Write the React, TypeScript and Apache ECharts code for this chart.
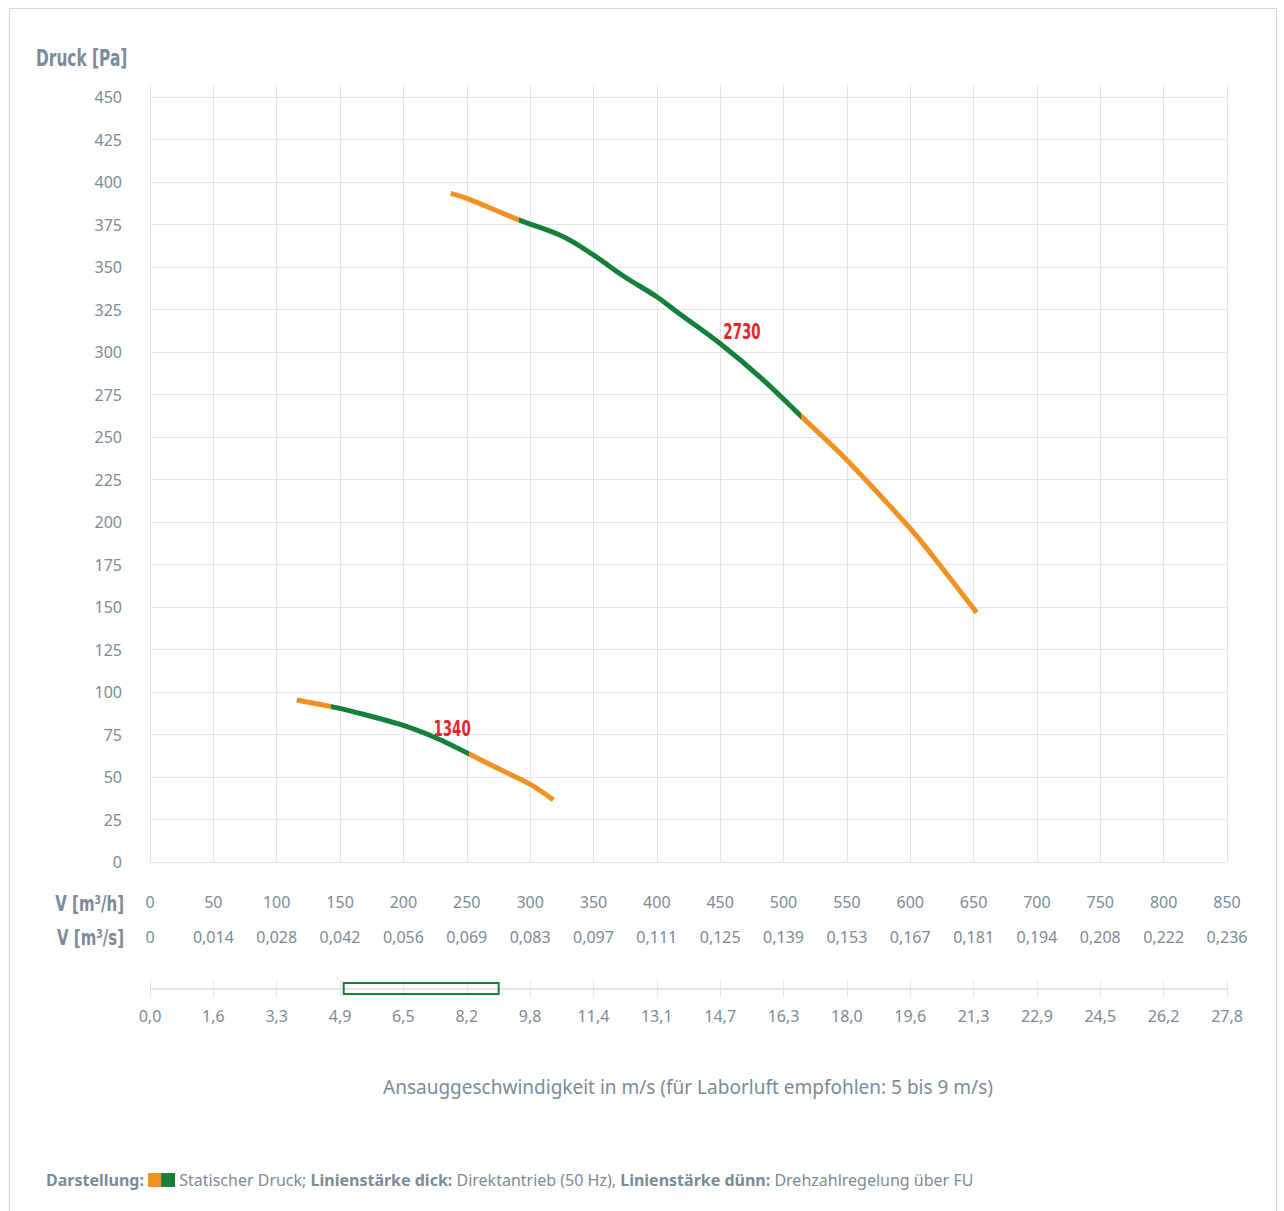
import React, { useEffect, useRef } from "react";
import * as echarts from "echarts";

// ---- Data ----
const flowMin = 0;
const flowMax = 850;
const flowStep = 50;
const pressureMax = 450;
const pressureStep = 25;

const flowM3sLabels = ["0", "0,014", "0,028", "0,042", "0,056", "0,069", "0,083", "0,097", "0,111", "0,125", "0,139", "0,153", "0,167", "0,181", "0,194", "0,208", "0,222", "0,236"];
const velocityLabels = ["0,0", "1,6", "3,3", "4,9", "6,5", "8,2", "9,8", "11,4", "13,1", "14,7", "16,3", "18,0", "19,6", "21,3", "22,9", "24,5", "26,2", "27,8"];
const velocityAtFlowMax = 27.8; // m/s at 850 m³/h
const recommendedVelocity = [5, 9]; // m/s

// Curve 1340 rpm: [m³/h, Pa]
const curve1340: number[][] = [
  [115.8, 95.3], [142.9, 91.4], [160, 88.5], [198.7, 80.6], [226.3, 72.8], [252, 63.5], [276, 54.5], [299.9, 45.8], [318.3, 36.5],
];
const curve1340Direct = [142.9, 252]; // green segment range (m³/h)
const label1340 = { text: "1340", flow: 238.4, pressure: 78.2 };

// Curve 2730 rpm
const curve2730: number[][] = [
  [237.3, 393.3], [250, 390.4], [291.5, 377.6], [326.2, 367.8], [349.9, 357.1], [373.6, 344.7], [399.9, 332.5],
  [415.7, 323.7], [449.9, 305], [484.1, 283.5], [513.6, 262.4], [549.9, 236.5], [599.8, 196.3], [618.2, 179.6], [652.4, 146.7],
];
const curve2730Direct = [291.5, 513.6];
const label2730 = { text: "2730", flow: 467.2, pressure: 311.8 };

// ---- Styles ----
const ORANGE = "#f39022";
const GREEN = "#15803a";
const TEXT = "#7b8b99";
const GRID = "#e3e4ea";
const NUM_FONT = "'Noto Sans', 'Open Sans', sans-serif";
const COND_FONT = "'DejaVu Sans', sans-serif";

function idxLabel(arr: string[]) {
  return (v: number) => {
    const i = Math.round((v - flowMin) / flowStep);
    return arr[i] ?? "";
  };
}

export default function App() {
  const ref = useRef<HTMLDivElement>(null);
  useEffect(() => {
    if (!ref.current) return;
    const chart = echarts.init(ref.current, null, { renderer: "svg" });
    const toFlow = (ms: number) => (ms / velocityAtFlowMax) * flowMax;

    const pieces = (r: number[]) => [
      { lt: r[0], color: ORANGE },
      { gte: r[0], lte: r[1], color: GREEN },
      { gt: r[1], color: ORANGE },
    ];

    const valueX = (gridIndex: number, extra: any = {}) => ({
      type: "value",
      gridIndex,
      min: flowMin,
      max: flowMax,
      interval: flowStep,
      axisLine: { show: false },
      axisTick: { show: false },
      axisLabel: { show: false },
      splitLine: { show: false },
      ...extra,
    });

    const condText = (text: string, x: number, y: number, align: string, size: number, fill: string, sx: number) => ({
      type: "text",
      x,
      y,
      scaleX: sx,
      style: { text, font: `bold ${size}px ${COND_FONT}`, fill, align, verticalAlign: "middle" },
    });

    const baseGraphic: any[] = [
      {
        type: "rect",
        silent: true,
        shape: { x: 9.5, y: 8.5, width: 1267, height: 1230 },
        style: { fill: "none", stroke: "#d4d7dc", lineWidth: 1 },
        z: -1,
      },
      condText("Druck [Pa]", 36, 58, "left", 23, TEXT, 0.67),
      condText("V [m³/h]", 124, 903, "right", 22, TEXT, 0.68),
      condText("V [m³/s]", 124, 937, "right", 22, TEXT, 0.68),
      {
        type: "text",
        x: 688,
        y: 1087,
        style: {
          text: "Ansauggeschwindigkeit in m/s (für Laborluft empfohlen: 5 bis 9 m/s)",
          font: `19px ${NUM_FONT}`,
          fill: TEXT,
          align: "center",
          verticalAlign: "middle",
        },
      },
      {
        type: "text",
        x: 46,
        y: 1180,
        style: {
          text:
            "{b|Darstellung:} {o|}{g|} {n|Statischer Druck;} {b|Linienstärke dick:} {n|Direktantrieb (50 Hz),} {b|Linienstärke dünn:} {n|Drehzahlregelung über FU}",
          verticalAlign: "middle",
          fill: TEXT,
          font: `16px ${NUM_FONT}`,
          rich: {
            b: { fontFamily: NUM_FONT, fontWeight: "bold", fontSize: 16, fill: TEXT },
            n: { fontFamily: NUM_FONT, fontSize: 16, fill: TEXT },
            o: { backgroundColor: ORANGE, width: 13, height: 14 },
            g: { backgroundColor: GREEN, width: 14, height: 14 },
          },
        },
      },
    ];

    chart.setOption({
      animation: false,
      backgroundColor: "#ffffff",
      grid: [
        { left: 150, right: 57, top: 97, height: 765 },
        { left: 150, right: 57, top: 85, height: 12 },
        { left: 150, right: 57, top: 980, height: 17 },
      ],
      xAxis: [
        valueX(0, {
          splitLine: { show: true, lineStyle: { color: GRID, width: 1 } },
          axisLabel: { show: true, margin: 32, fontSize: 16, color: TEXT, fontFamily: NUM_FONT, formatter: (v: number) => String(v) },
        }),
        valueX(0, {
          position: "bottom",
          offset: 35,
          axisLabel: { show: true, margin: 32, fontSize: 16, color: TEXT, fontFamily: NUM_FONT, formatter: idxLabel(flowM3sLabels) },
        }),
        valueX(1, { splitLine: { show: true, lineStyle: { color: GRID, width: 1 } } }),
        valueX(2, {
          splitLine: { show: true, lineStyle: { color: GRID, width: 1 } },
          axisLabel: { show: true, margin: 11, fontSize: 16, color: TEXT, fontFamily: NUM_FONT, formatter: idxLabel(velocityLabels) },
        }),
      ],
      yAxis: [
        {
          type: "value",
          gridIndex: 0,
          min: 0,
          max: pressureMax,
          interval: pressureStep,
          axisLine: { show: false },
          axisTick: { show: false },
          axisLabel: { margin: 28, fontSize: 16, color: TEXT, fontFamily: NUM_FONT },
          splitLine: { show: true, lineStyle: { color: GRID, width: 1 } },
        },
        { type: "value", gridIndex: 1, min: 0, max: 1, show: false },
        {
          type: "value",
          gridIndex: 2,
          min: 0,
          max: 2,
          interval: 1,
          axisLine: { show: false },
          axisTick: { show: false },
          axisLabel: { show: false },
          splitLine: { show: true, lineStyle: { color: ["transparent", GRID, "transparent"], width: 2 } },
        },
      ],
      visualMap: [
        { type: "piecewise", show: false, dimension: 0, seriesIndex: 0, pieces: pieces(curve2730Direct) },
        { type: "piecewise", show: false, dimension: 0, seriesIndex: 1, pieces: pieces(curve1340Direct) },
      ],
      series: [
        {
          type: "line",
          xAxisIndex: 0,
          yAxisIndex: 0,
          data: curve2730,
          smooth: 0.35,
          showSymbol: false,
          lineStyle: { width: 5 },
          z: 5,
        },
        {
          type: "line",
          xAxisIndex: 0,
          yAxisIndex: 0,
          data: curve1340,
          smooth: 0.35,
          showSymbol: false,
          lineStyle: { width: 5 },
          z: 5,
        },
        {
          type: "line",
          xAxisIndex: 3,
          yAxisIndex: 2,
          data: [],
          markArea: {
            silent: true,
            itemStyle: { color: "rgba(0,0,0,0)", borderColor: GREEN, borderWidth: 2 },
            data: [
              [
                { xAxis: toFlow(recommendedVelocity[0]), yAxis: 0.35 },
                { xAxis: toFlow(recommendedVelocity[1]), yAxis: 1.65 },
              ],
            ],
          },
        },
      ],
      graphic: baseGraphic,
    });

    const labelGraphics = [label2730, label1340].map((l) => {
      const p = chart.convertToPixel({ gridIndex: 0 }, [l.flow, l.pressure]) as number[];
      return { ...condText(l.text, p[0], p[1], "center", 21, "#e3262b", 0.64), z: 10 };
    });
    chart.setOption({ graphic: [...baseGraphic, ...labelGraphics] });

    return () => chart.dispose();
  }, []);

  return (
    <div
      ref={ref}
      style={{ position: "fixed", left: 0, top: 0, width: 1284, height: 1211, background: "#fff" }}
    />
  );
}
